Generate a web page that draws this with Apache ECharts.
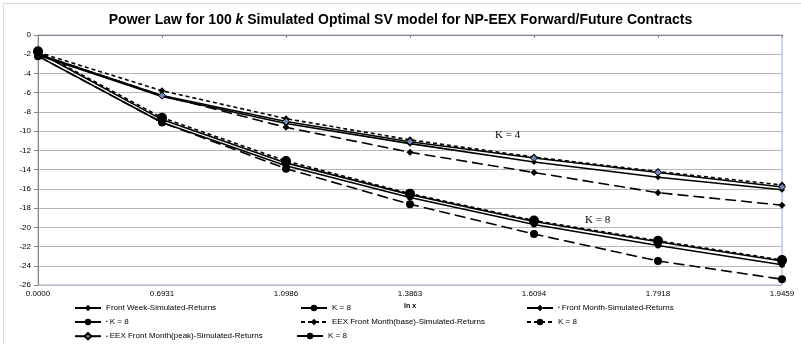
<!DOCTYPE html>
<html>
<head>
<meta charset="utf-8">
<script src="https://cdn.jsdelivr.net/npm/echarts@6/dist/echarts.min.js"></script>
<style>
  html, body { margin: 0; padding: 0; background: #ffffff; }
  #chart { width: 801px; height: 344px; }
</style>
</head>
<body>
<div id="chart"></div>
<script>
// ln x categories on the horizontal axis
const lnX = ['0.0000', '0.6931', '1.0986', '1.3863', '1.6094', '1.7918', '1.9459'];

// Power-law log values, K = 4
const frontWeekK4  = [-2.1, -6.4, -9.2, -11.3, -13.2, -14.8, -16.1];
const frontMonthK4 = [-2.0, -6.3, -9.6, -12.2, -14.3, -16.4, -17.7];
const eexBaseK4    = [-1.8, -5.8, -8.7, -10.9, -12.7, -14.2, -15.6];
const eexPeakK4    = [-2.0, -6.3, -9.0, -11.1, -12.8, -14.3, -15.8];

// Power-law log values, K = 8
const frontWeekK8  = [-2.2, -9.1, -13.6, -16.9, -19.7, -21.9, -23.9];
const frontMonthK8 = [-2.2, -9.1, -13.9, -17.6, -20.7, -23.5, -25.4];
const eexBaseK8    = [-1.7, -8.6, -13.1, -16.5, -19.3, -21.4, -23.4];
const eexPeakK8    = [-1.8, -8.8, -13.3, -16.6, -19.4, -21.5, -23.5];

const yTicks = { min: -26, max: 0, step: 2 };

const chart = echarts.init(document.getElementById('chart'), null, { renderer: 'canvas' });

const SOLID = 'solid';
const SHORT = [4, 3];
const LONG = [11, 5];

function line(name, data, dash, symbol, size, color) {
  return {
    name: name,
    type: 'line',
    data: data,
    symbol: symbol,
    symbolSize: size,
    showSymbol: true,
    animation: false,
    itemStyle: { color: color || '#000000', borderColor: '#000000', borderWidth: color ? 1 : 0 },
    lineStyle: { color: '#000000', width: 1.6, type: dash },
    z: 3
  };
}

const series = [
  line('Front Week-Simulated-Returns', frontWeekK4, SOLID, 'diamond', 6),
  line('K = 8 (week)', frontWeekK8, SOLID, 'circle', 6),
  line('Front Month-Simulated-Returns', frontMonthK4, LONG, 'diamond', 7),
  line('K = 8 (month)', frontMonthK8, LONG, 'circle', 8),
  line('EEX Front Month(base)-Simulated-Returns', eexBaseK4, SHORT, 'diamond', 7),
  line('K = 8 (base)', eexBaseK8, SHORT, 'circle', 10),
  line('EEX Front Month(peak)-Simulated-Returns', eexPeakK4, SOLID, 'diamond', 7, '#7085b5'),
  line('K = 8 (peak)', eexPeakK8, SOLID, 'circle', 9)
];

// legend placement: [series index, left, top, label, leading dot]
const legendSlots = [
  [0, 74, 304, 'Front Week-Simulated-Returns', false],
  [1, 300, 304, 'K = 8', false],
  [2, 526, 304, 'Front Month-Simulated-Returns', true],
  [3, 74, 318, 'K = 8', true],
  [4, 300, 318, 'EEX Front Month(base)-Simulated-Returns', false],
  [5, 526, 318, 'K = 8', false],
  [6, 74, 332, 'EEX Front Month(peak)-Simulated-Returns', true],
  [7, 296, 332, 'K = 8', false]
];

const legends = legendSlots.map(function (s) {
  const label = s[3];
  const dot = s[4];
  return {
    data: [series[s[0]].name],
    left: s[1],
    top: s[2],
    itemWidth: 26,
    itemHeight: 8,
    itemGap: 4,
    padding: 0,
    selectedMode: false,
    textStyle: {
      fontFamily: 'Liberation Sans',
      fontSize: 8,
      color: '#000000',
      rich: { d: { fontSize: 5, color: '#000000', padding: [0, 2, 0, 0] } }
    },
    formatter: function () { return dot ? '{d|•}' + label : label; }
  };
});

const option = {
  backgroundColor: '#ffffff',
  animation: false,
  title: {
    text: 'Power Law for 100 {i|k} Simulated Optimal SV model for NP-EEX Forward/Future Contracts',
    left: 'center',
    top: 8,
    textStyle: {
      fontFamily: 'Liberation Sans',
      fontSize: 14,
      fontWeight: 'bold',
      color: '#000000',
      rich: { i: { fontFamily: 'Liberation Sans', fontSize: 14, fontWeight: 'bold', fontStyle: 'italic', color: '#000000' } }
    }
  },
  legend: legends,
  grid: {
    left: 38,
    right: 19,
    top: 35,
    bottom: 59,
    show: true,
    borderColor: '#95b3d7',
    borderWidth: 1,
    containLabel: false
  },
  xAxis: {
    type: 'category',
    data: lnX,
    boundaryGap: false,
    name: 'ln x',
    nameLocation: 'middle',
    nameGap: 12,
    nameTextStyle: { fontFamily: 'Liberation Sans', fontSize: 7, fontWeight: 'bold', color: '#000000' },
    axisLine: { lineStyle: { color: '#868686', width: 1 } },
    axisTick: { show: true, length: 3, lineStyle: { color: '#868686' } },
    axisLabel: { fontFamily: 'Liberation Sans', fontSize: 8, color: '#000000', margin: 5 },
    splitLine: { show: false }
  },
  yAxis: {
    type: 'value',
    min: yTicks.min,
    max: yTicks.max,
    interval: yTicks.step,
    axisLine: { show: true, lineStyle: { color: '#868686', width: 1 } },
    axisTick: { show: true, length: 4, lineStyle: { color: '#868686' } },
    axisLabel: { fontFamily: 'Liberation Sans', fontSize: 8, color: '#000000', margin: 7 },
    splitLine: { show: true, lineStyle: { color: '#b8b8b8', width: 1 } }
  },
  graphic: [
    {
      type: 'rect',
      left: 1, top: 1,
      shape: { width: 798, height: 341 },
      style: { fill: 'none', stroke: '#d9d9d9', lineWidth: 1 },
      silent: true
    },
    {
      type: 'text',
      left: 495, top: 130,
      style: { text: 'K = 4', font: '11px "Liberation Serif"', fill: '#000000' },
      z: 10
    },
    {
      type: 'text',
      left: 585, top: 215,
      style: { text: 'K = 8', font: '11px "Liberation Serif"', fill: '#000000' },
      z: 10
    }
  ],
  series: series
};

chart.setOption(option);
</script>
</body>
</html>
